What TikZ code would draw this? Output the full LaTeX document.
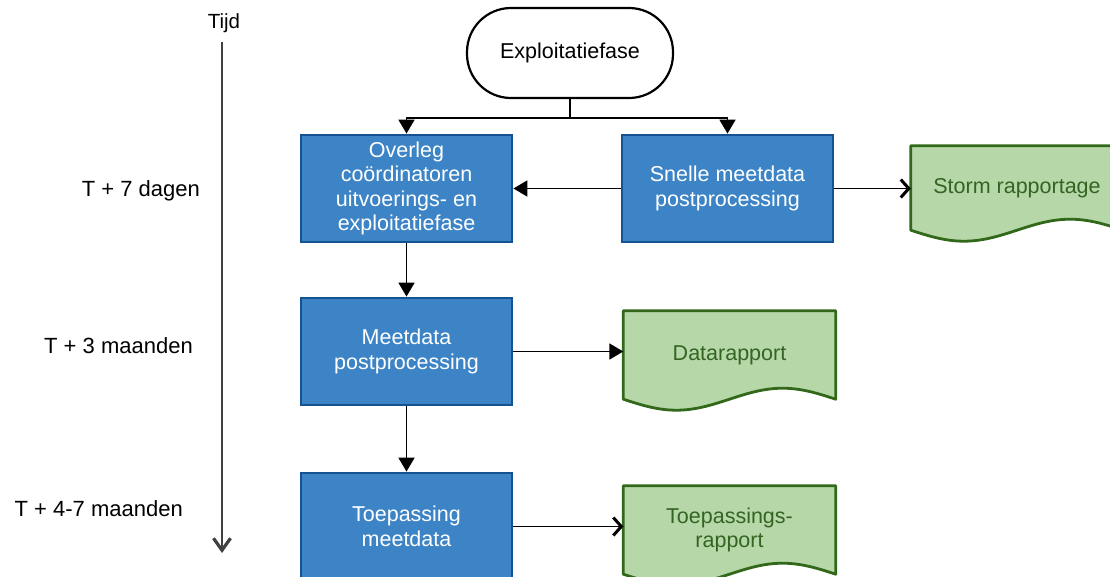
\documentclass[tikz,border=0pt]{standalone}
\usepackage{fontspec}
\setmainfont{Liberation Sans}
\usetikzlibrary{arrows.meta,calc}

\definecolor{procfill}{RGB}{61,132,198}
\definecolor{procline}{RGB}{20,82,146}
\definecolor{docfill}{RGB}{182,215,168}
\definecolor{docline}{RGB}{50,104,26}
\definecolor{doctext}{RGB}{52,100,34}
\definecolor{axisgray}{RGB}{64,64,64}

\pgfdeclarelayer{bg}
\pgfsetlayers{bg,main}

% wavy outline of a flowchart "document", drawn behind the named node
\newcommand\docoutline[1]{%
  \begin{pgfonlayer}{bg}
    \begin{scope}
      \clip (0,0) rectangle (1110,576);
      \draw[docborder] let \p1=(#1.south west), \p2=(#1.north east) in
        (\x1,\y2) -- (\x2,\y2) -- (\x2,\y1)
        sin ({\x2-0.25*(\x2-\x1)},{\y1+11pt})
        cos ({0.5*(\x1+\x2)},\y1)
        sin ({\x1+0.25*(\x2-\x1)},{\y1-11pt})
        cos (\x1,\y1) -- cycle;
    \end{scope}
  \end{pgfonlayer}}

\begin{document}
\begin{tikzpicture}[x=1pt,y=-1pt,
  txt/.style={font=\fontsize{21.5}{24.5}\selectfont},
  terminal/.style={txt, draw=black, line width=2.2pt, fill=white,
    rounded corners=44pt, minimum width=206pt, minimum height=90pt, inner sep=0pt},
  process/.style={txt, draw=procline, fill=procfill, text=white, line width=2.8pt,
    minimum width=211pt, minimum height=107pt, inner sep=0pt, align=center},
  document/.style={txt, text=doctext, minimum width=212pt, inner sep=0pt, align=center},
  docborder/.style={draw=docline, fill=docfill, line width=2.8pt, line join=round},
  timelabel/.style={font=\fontsize{22}{26}\selectfont, anchor=base east, inner sep=0pt},
  link/.style={draw=black, line width=1.8pt},
  solidtip/.style={-{Triangle[length=14pt,width=16pt]}},
  opentip/.style={-{Straight Barb[length=8pt,width=18pt,line width=3pt]}},
]
\useasboundingbox (0,0) rectangle (1110,576);
\clip (0,0) rectangle (1110,576);

% time axis
\node[font=\fontsize{20.5}{24}\selectfont, anchor=base, inner sep=0pt] (tijd) at (224,28) {Tijd};
\coordinate (t0) at (222,42);
\coordinate (t1) at (222,553);
\draw[draw=axisgray, line width=2.4pt, -{Straight Barb[length=12pt,width=17pt,line width=3.2pt]}] (t0) -- (t1);
\node[timelabel] (l1) at (200,196) {T + 7 dagen};
\node[timelabel] (l2) at (193,353) {T + 3 maanden};
\node[timelabel] (l3) at (183,516) {T + 4-7 maanden};

% flowchart nodes
\node[terminal] (start) at (570,53) {Exploitatiefase};
\node[process] (overleg) at (406.5,188.5) {Overleg\\coördinatoren\\uitvoerings- en\\exploitatiefase};
\node[process] (snel) at (727.5,188.5) {Snelle meetdata\\postprocessing};
\node[process] (meet) at (406.5,351.5) {Meetdata\\postprocessing};
\node[process] (toepas) at (406.5,526.5) {Toepassing\\meetdata};

\node[document, minimum height=84pt] (storm) at (1017,188) {Storm rapportage};
\node[document, minimum height=88pt] (data) at (729.5,355) {Datarapport};
\node[document, minimum height=88pt] (rapport) at (729.5,530) {Toepassings-\\rapport};
\docoutline{storm}
\docoutline{data}
\docoutline{rapport}

% connectors
\coordinate (fork) at ($(start.south)+(0,19)$);
\draw[link] (start.south) -- (fork);
\draw[link, solidtip] (fork) -| (overleg.north);
\draw[link, solidtip] (fork) -| (snel.north);
\draw[link, solidtip] (snel.west) -- (overleg.east);
\draw[link, opentip] (snel.east) -- (snel.east -| storm.west);
\draw[link, solidtip] (overleg.south) -- (meet.north);
\draw[link, solidtip] (meet.east) -- (meet.east -| data.west);
\draw[link, solidtip] (meet.south) -- (toepas.north);
\draw[link, opentip] (toepas.east) -- (toepas.east -| rapport.west);
\end{tikzpicture}
\end{document}
